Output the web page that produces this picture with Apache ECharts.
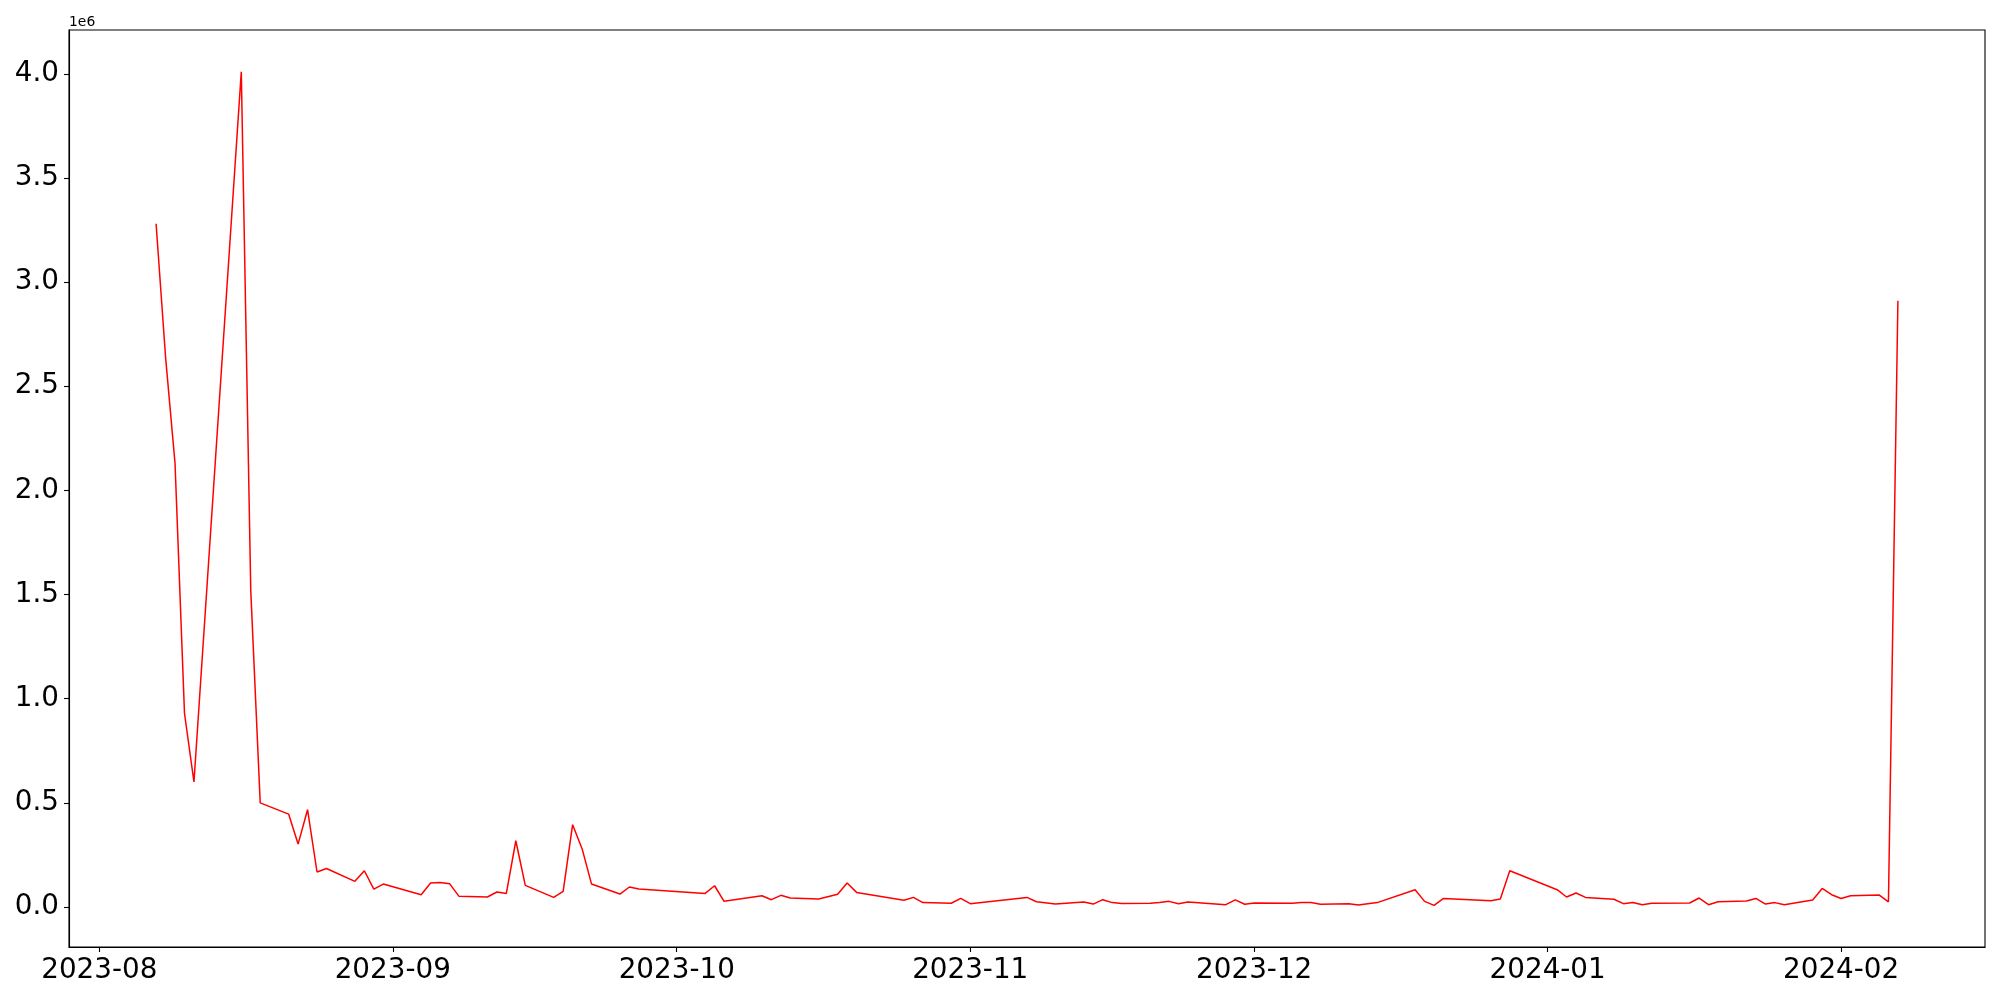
<!DOCTYPE html>
<html>
<head>
<meta charset="utf-8">
<script src="https://cdn.jsdelivr.net/npm/echarts@6/dist/echarts.min.js"></script>
<style>
html,body{margin:0;padding:0;background:#fff;}
#chart{width:2000px;height:1000px;}
</style>
</head>
<body>
<div id="chart"></div>
<script>
// ---- data ----
const dates = [
'2023-08-07','2023-08-08','2023-08-09','2023-08-10','2023-08-11',
'2023-08-16','2023-08-17','2023-08-18',
'2023-08-21','2023-08-22','2023-08-23','2023-08-24','2023-08-25',
'2023-08-28','2023-08-29','2023-08-30','2023-08-31',
'2023-09-04','2023-09-05','2023-09-06','2023-09-07','2023-09-08',
'2023-09-11','2023-09-12','2023-09-13','2023-09-14','2023-09-15',
'2023-09-18','2023-09-19','2023-09-20','2023-09-21','2023-09-22',
'2023-09-25','2023-09-26','2023-09-27',
'2023-10-04','2023-10-05','2023-10-06',
'2023-10-10','2023-10-11','2023-10-12','2023-10-13',
'2023-10-16','2023-10-18','2023-10-19','2023-10-20',
'2023-10-25','2023-10-26','2023-10-27',
'2023-10-30','2023-10-31','2023-11-01',
'2023-11-07','2023-11-08','2023-11-10',
'2023-11-13','2023-11-14','2023-11-15','2023-11-16','2023-11-17',
'2023-11-20','2023-11-21','2023-11-22','2023-11-23','2023-11-24',
'2023-11-28','2023-11-29','2023-11-30','2023-12-01',
'2023-12-05','2023-12-06','2023-12-07','2023-12-08',
'2023-12-11','2023-12-12','2023-12-14',
'2023-12-18','2023-12-19','2023-12-20','2023-12-21',
'2023-12-26','2023-12-27','2023-12-28',
'2024-01-02','2024-01-03','2024-01-04','2024-01-05',
'2024-01-08','2024-01-09','2024-01-10','2024-01-11','2024-01-12',
'2024-01-16','2024-01-17','2024-01-18','2024-01-19',
'2024-01-22','2024-01-23','2024-01-24','2024-01-25','2024-01-26',
'2024-01-29','2024-01-30','2024-01-31','2024-02-01','2024-02-02',
'2024-02-05','2024-02-06','2024-02-07'
];
const values = [
3280000,2640000,2130000,930000,600000,
4010000,1520000,500000,
446000,302000,467000,168000,185000,
123000,174000,86000,110000,
59000,115000,117000,112000,51000,
48000,72000,65000,318000,104000,
46000,75000,395000,280000,110000,
62000,96000,86000,
65000,102000,27000,
54000,35000,56000,43000,
38000,61000,115000,70000,
32000,46000,21000,
18000,41000,16000,
46000,25000,14000,
24000,14000,35000,21000,17000,
18000,21000,27000,16000,24000,
11000,34000,13000,19000,
18000,22000,22000,13000,
16000,10000,21000,
83000,27000,8000,41000,
30000,38000,174000,
83000,48000,67000,46000,
37000,16000,22000,11000,18000,
19000,43000,11000,25000,
29000,41000,14000,21000,11000,
34000,89000,59000,41000,54000,
58000,25000,2910000
];
const xTickLabels = ['2023-08','2023-09','2023-10','2023-11','2023-12','2024-01','2024-02'];
const yTickValues = [0,500000,1000000,1500000,2000000,2500000,3000000,3500000,4000000];
const offsetText = '1e6';

// ---- build ----
function ts(s){ const p=s.split('-').map(Number); return Date.UTC(p[0],p[1]-1,p[2]||1); }
const seriesData = dates.map((d,i)=>[ts(d), values[i]]);
const xTicks = xTickLabels.map(ts);
const xs = seriesData.map(p=>p[0]);
const xMinD = Math.min(...xs), xMaxD = Math.max(...xs);
const xPad = (xMaxD - xMinD) * 0.05;
const yMinD = Math.min(...values), yMaxD = Math.max(...values);
const yPad = (yMaxD - yMinD) * 0.05;
const FONT = 'DejaVu Sans';

const chart = echarts.init(document.getElementById('chart'), null, {renderer:'canvas'});
chart.setOption({
  animation: false,
  backgroundColor: '#ffffff',
  grid: {left: 69, right: 15, top: 30, bottom: 53, show: true, borderColor: '#000', borderWidth: 1.1, containLabel: false, outerBoundsMode: 'none'},
  xAxis: {
    type: 'value',
    min: xMinD - xPad,
    max: xMaxD + xPad,
    splitLine: {show: false},
    axisLine: {show: true, onZero: false, lineStyle: {color: '#000', width: 1.1}},
    axisTick: {show: true, length: 5, lineStyle: {color: '#000', width: 1.1}, customValues: xTicks},
    axisLabel: {
      customValues: xTicks,
      margin: 10,
      color: '#000',
      fontFamily: FONT,
      fontSize: 27.8,
      formatter: function(v){ const d=new Date(v); return d.getUTCFullYear()+'-'+String(d.getUTCMonth()+1).padStart(2,'0'); }
    }
  },
  yAxis: {
    type: 'value',
    min: yMinD - yPad,
    max: yMaxD + yPad,
    splitLine: {show: false},
    axisLine: {show: true, onZero: false, lineStyle: {color: '#000', width: 1.1}},
    axisTick: {show: true, length: 5, lineStyle: {color: '#000', width: 1.1}, customValues: yTickValues},
    axisLabel: {
      customValues: yTickValues,
      margin: 10,
      color: '#000',
      fontFamily: FONT,
      fontSize: 27.8,
      formatter: function(v){ return (v/1e6).toFixed(1); }
    }
  },
  graphic: [{
    type: 'text', left: 69, top: 15,
    style: {text: offsetText, font: '13.9px "DejaVu Sans"', fill: '#000'}
  }],
  series: [{
    type: 'line',
    data: seriesData,
    showSymbol: false,
    symbol: 'none',
    lineStyle: {color: '#ff0000', width: 1.5},
    itemStyle: {color: '#ff0000'}
  }]
});
</script>
</body>
</html>
